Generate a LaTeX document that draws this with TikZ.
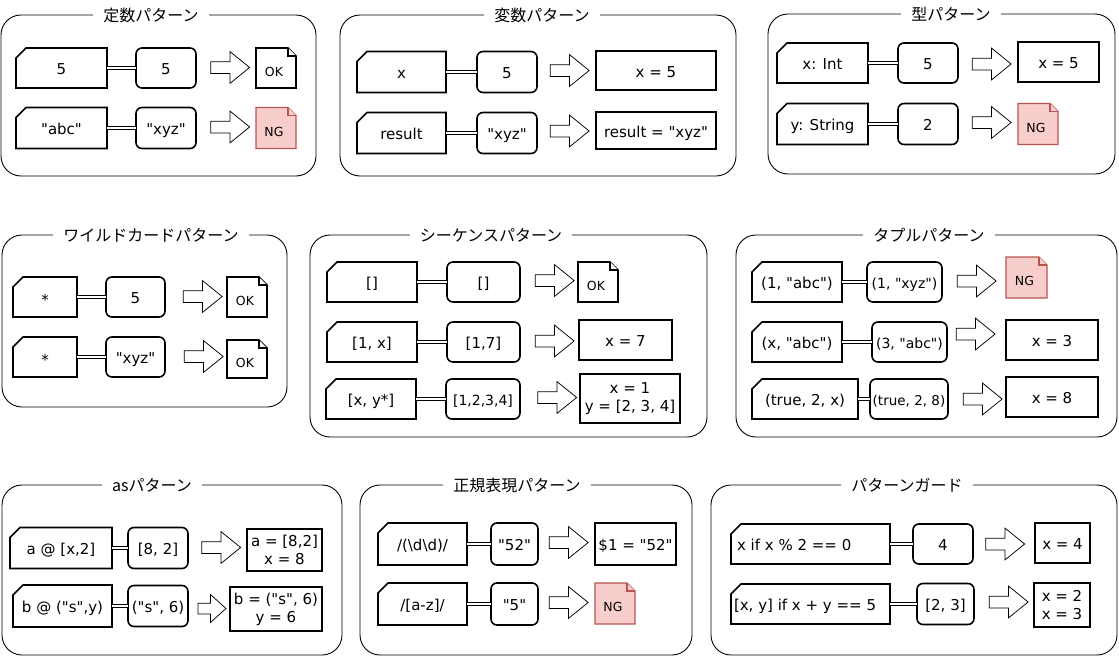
\documentclass[tikz,border=0pt]{standalone}
\usepackage{fontspec}
\setmainfont{DejaVu Sans}[Ligatures=TeXOff]
\newfontfamily\jpfont{Noto Sans CJK JP}
\usetikzlibrary{shapes.arrows}
\definecolor{ngred}{HTML}{B85450}
\definecolor{ngfill}{HTML}{F8CECC}
\tikzset{
  lblbase/.style={font=\fontsize{15}{18}\selectfont, inner sep=0pt, outer sep=0pt},
  oneline/.style={text height=13.5pt, text depth=0pt},
  pattext/.style={lblbase, oneline, rectangle, draw=none},
  patline/.style={line width=1.6pt, line join=miter},
  valbox/.style={lblbase, oneline, draw, line width=1.6pt, rounded corners=6pt, rectangle},
  resbox/.style={lblbase, oneline, draw, line width=1.6pt, rectangle},
  resmulti/.style={lblbase, align=center, draw, line width=1.6pt, rectangle},
  dbl/.style={double, double distance=2pt, line width=1pt},
  barrow/.style={single arrow, draw, line width=0.75pt, inner xsep=0pt, inner ysep=5.5pt,
    single arrow head extend=10pt, single arrow tip angle=78, minimum height=39pt},
  barrowsmall/.style={barrow, inner ysep=5pt, single arrow head extend=8.5pt,
    single arrow tip angle=84, minimum height=28pt},
  frame/.style={draw, line width=0.9pt, rounded corners=20pt},
  ttl/.style={font=\jpfont\fontsize{16}{19}\selectfont, fill=white, inner xsep=10pt, inner ysep=2pt},
  okdoc/.style={draw=black, fill=white, line width=1.6pt, line join=miter},
  ngdoc/.style={draw=ngred, fill=ngfill, line width=1.4pt, line join=miter},
  doctext/.style={font=\fontsize{12.5}{15}\selectfont, inner sep=0pt}
}
% name, cx, cy, w, h, text
\newcommand\patnode[6]{%
  \node[pattext, minimum width=#4, minimum height=#5] (#1) at (#2,#3) {#6};
  \draw[patline] ([xshift=10pt]#1.north west) -- (#1.north east) -- (#1.south east)
    -- (#1.south west) -- ([yshift=-10pt]#1.north west) -- cycle;}
\newcommand\valnode[6]{%
  \node[valbox, minimum width=#4, minimum height=#5] (#1) at (#2,#3) {#6};}
\newcommand\resnode[6]{%
  \node[resbox, minimum width=#4, minimum height=#5] (#1) at (#2,#3) {#6};}
% name, cx, cy, w, h, style, text
\newcommand\docnode[7]{%
  \path[#6] ({#2-#4/2},{#3-#5/2}) -- ({#2+#4/2-8},{#3-#5/2}) -- ({#2+#4/2},{#3-#5/2+8})
    -- ({#2+#4/2},{#3+#5/2}) -- ({#2-#4/2},{#3+#5/2}) -- cycle;
  \path[#6] ({#2+#4/2-8},{#3-#5/2}) -- ({#2+#4/2-8},{#3-#5/2+8}) -- ({#2+#4/2},{#3-#5/2+8});
  \node[doctext] (#1) at ({#2-2},{#3+3.5}) {#7};}
\begin{document}
\begin{tikzpicture}[x=1pt,y=-1pt]
\fill[white] (0,0) rectangle (1119,656);
\useasboundingbox (0,0) rectangle (1119,656);

% ---------- P1 定数パターン
\draw[frame] (1,15) rectangle (316,176);
\node[ttl] (t1) at (151,15) {定数パターン};
\patnode{p1a}{61.5}{68}{91}{40}{5}
\valnode{v1a}{166}{68}{60}{40}{5}
\draw[dbl] (p1a.east) -- (v1a.west);
\node[barrow] (a1a) at (226.5,67.5) {};
\docnode{d1a}{276}{68}{40}{40}{okdoc}{OK}
\patnode{p1b}{61.5}{128}{91}{41}{"abc"}
\valnode{v1b}{166}{128}{60}{41}{"xyz"}
\draw[dbl] (p1b.east) -- (v1b.west);
\node[barrow] (a1b) at (226.5,127) {};
\docnode{d1b}{276}{128}{40}{41}{ngdoc}{NG}

% ---------- P2 変数パターン
\draw[frame] (340,15) rectangle (736,176);
\node[ttl] (t2) at (542,15) {変数パターン};
\patnode{p2a}{401.5}{72}{89}{41}{x}
\valnode{v2a}{507}{72}{60}{41}{5}
\draw[dbl] (p2a.east) -- (v2a.west);
\node[barrow] (a2a) at (566,70.5) {};
\resnode{r2a}{656}{70.5}{120}{39}{x = 5}
\patnode{p2b}{401.5}{133}{89}{41}{result}
\valnode{v2b}{507}{133}{60}{41}{"xyz"}
\draw[dbl] (p2b.east) -- (v2b.west);
\node[barrow] (a2b) at (566,131) {};
\resnode{r2b}{656}{130.5}{120}{37}{result = "xyz"}

% ---------- P3 型パターン
\draw[frame] (768,14) rectangle (1115,174);
\node[ttl] (t3) at (951,14) {型パターン};
\patnode{p3a}{822.5}{63}{91}{40}{x: Int}
\valnode{v3a}{928}{63}{60}{40}{5}
\draw[dbl] (p3a.east) -- (v3a.west);
\node[barrow] (a3a) at (988,64) {};
\resnode{r3a}{1058.5}{62}{81}{40}{x = 5}
\patnode{p3b}{822.5}{124}{91}{41}{y: String}
\valnode{v3b}{928}{124}{60}{41}{2}
\draw[dbl] (p3b.east) -- (v3b.west);
\node[barrow] (a3b) at (988,122.5) {};
\docnode{d3b}{1038}{124}{40}{41}{ngdoc}{NG}

% ---------- P4 ワイルドカードパターン
\draw[frame] (2,235) rectangle (287,407);
\node[ttl] (t4) at (151,235) {ワイルドカードパターン};
\node[pattext, minimum width=64, minimum height=40, text height=16pt] (p4a) at (45,297) {*};
\draw[patline] ([xshift=10pt]p4a.north west) -- (p4a.north east) -- (p4a.south east)
  -- (p4a.south west) -- ([yshift=-10pt]p4a.north west) -- cycle;
\valnode{v4a}{135.5}{297}{59}{40}{5}
\draw[dbl] (p4a.east) -- (v4a.west);
\node[barrow] (a4a) at (199,296.5) {};
\docnode{d4a}{247}{297}{40}{40}{okdoc}{OK}
\node[pattext, minimum width=64, minimum height=40, text height=16pt] (p4b) at (45,357) {*};
\draw[patline] ([xshift=10pt]p4b.north west) -- (p4b.north east) -- (p4b.south east)
  -- (p4b.south west) -- ([yshift=-10pt]p4b.north west) -- cycle;
\valnode{v4b}{135.5}{357}{59}{40}{"xyz"}
\draw[dbl] (p4b.east) -- (v4b.west);
\node[barrow] (a4b) at (200,356.5) {};
\docnode{d4b}{247}{359}{40}{38}{okdoc}{OK}

% ---------- P5 シーケンスパターン
\draw[frame] (310,235) rectangle (707,437);
\node[ttl] (t5) at (491,235) {シーケンスパターン};
\patnode{p5a}{372}{282}{90}{40}{[]}
\valnode{v5a}{483.5}{282}{73}{40}{[]}
\draw[dbl] (p5a.east) -- (v5a.west);
\node[barrow] (a5a) at (551,280.5) {};
\docnode{d5a}{598}{282}{40}{40}{okdoc}{OK}
\patnode{p5b}{372}{342}{90}{40}{[1, x]}
\valnode{v5b}{483.5}{342}{73}{40}{[1,7]}
\draw[dbl] (p5b.east) -- (v5b.west);
\node[barrow] (a5b) at (551,341) {};
\resnode{r5b}{625.5}{340}{93}{40}{x = 7}
\patnode{p5c}{371}{399}{90}{40}{[x, y*]}
\valnode{v5c}{483}{399}{74}{40}{\fontsize{14}{17}\selectfont[1,2,3,4]}
\draw[dbl] (p5c.east) -- (v5c.west);
\node[barrow] (a5c) at (553.5,397.5) {};
\node[resmulti, minimum width=100, minimum height=49] (r5c) at (630,398.5) {x = 1\\y = [2, 3, 4]};

% ---------- P6 タプルパターン
\draw[frame] (736,235) rectangle (1117,437);
\node[ttl] (t6) at (929,235) {タプルパターン};
\patnode{p6a}{797}{282}{90}{40}{(1, "abc")}
\valnode{v6a}{904.5}{282}{75}{40}{\fontsize{14}{17}\selectfont(1, "xyz")}
\draw[dbl] (p6a.east) -- (v6a.west);
\node[barrow] (a6a) at (973,281) {};
\docnode{d6a}{1026.5}{277.5}{41}{41}{ngdoc}{NG}
\patnode{p6b}{797}{342}{90}{40}{(x, "abc")}
\valnode{v6b}{909.5}{342}{75}{40}{\fontsize{14}{17}\selectfont(3, "abc")}
\draw[dbl] (p6b.east) -- (v6b.west);
\node[barrow] (a6b) at (972,334) {};
\resnode{r6b}{1052}{340}{92}{40}{x = 3}
\patnode{p6c}{805}{399}{106}{40}{(true, 2, x)}
\valnode{v6c}{909}{399}{78}{40}{\fontsize{13.5}{16}\selectfont(true, 2, 8)}
\draw[dbl] (p6c.east) -- (v6c.west);
\node[barrow] (a6c) at (979,399) {};
\resnode{r6c}{1052}{397}{92}{40}{x = 8}

% ---------- P7 asパターン
\draw[frame] (2,485) rectangle (342,655);
\node[ttl] (t7) at (152,485) {asパターン};
\patnode{p7a}{61}{548}{102}{41}{a @ [x,2]}
\valnode{v7a}{158}{548}{60}{41}{[8, 2]}
\draw[dbl] (p7a.east) -- (v7a.west);
\node[barrow] (a7a) at (217.5,547.5) {};
\node[resmulti, minimum width=75, minimum height=42] (r7a) at (284.5,550) {a = [8,2]\\x = 8};
\patnode{p7b}{62.5}{606}{99}{42}{b @ ("s",y)}
\valnode{v7b}{158}{606}{60}{41}{("s", 6)}
\draw[dbl] (p7b.east) -- (v7b.west);
\node[barrowsmall] (a7b) at (209,608.5) {};
\node[resmulti, minimum width=92, minimum height=44] (r7b) at (276,609) {b = ("s", 6)\\y = 6};

% ---------- P8 正規表現パターン
\draw[frame] (360,485) rectangle (692,655);
\node[ttl] (t8) at (517,485) {正規表現パターン};
\patnode{p8a}{422.5}{544}{89}{42}{/(\textbackslash d\textbackslash d)/}
\valnode{v8a}{514.5}{544}{47}{42}{"52"}
\draw[dbl] (p8a.east) -- (v8a.west);
\node[barrow] (a8a) at (565,542.5) {};
\resnode{r8a}{635.5}{544}{81}{42}{\$1 = "52"}
\patnode{p8b}{422.5}{604}{89}{42}{/[a-z]/}
\valnode{v8b}{514.5}{604}{47}{42}{"5"}
\draw[dbl] (p8b.east) -- (v8b.west);
\node[barrow] (a8b) at (565,602.5) {};
\docnode{d8b}{615}{603.5}{40}{41}{ngdoc}{NG}

% ---------- P9 パターンガード
\draw[frame] (711,485) rectangle (1117,655);
\node[ttl] (t9) at (907,485) {パターンガード};
\patnode{p9a}{810.5}{544}{159}{40}{\makebox[159pt][l]{\hspace{6pt}x if x \% 2 == 0}}
\valnode{v9a}{943}{544}{60}{40}{4}
\draw[dbl] (p9a.east) -- (v9a.west);
\node[barrow] (a9a) at (1001.5,544) {};
\resnode{r9a}{1062.5}{543}{55}{40}{x = 4}
\patnode{p9b}{810.5}{604}{159}{40}{\makebox[159pt][l]{\hspace{3pt}[x, y] if x + y == 5}}
\valnode{v9b}{945.5}{604}{57}{41}{[2, 3]}
\draw[dbl] (p9b.east) -- (v9b.west);
\node[barrow] (a9b) at (1005,602) {};
\node[resmulti, minimum width=56, minimum height=44] (r9b) at (1062,605) {x = 2\\x = 3};
\end{tikzpicture}
\end{document}
